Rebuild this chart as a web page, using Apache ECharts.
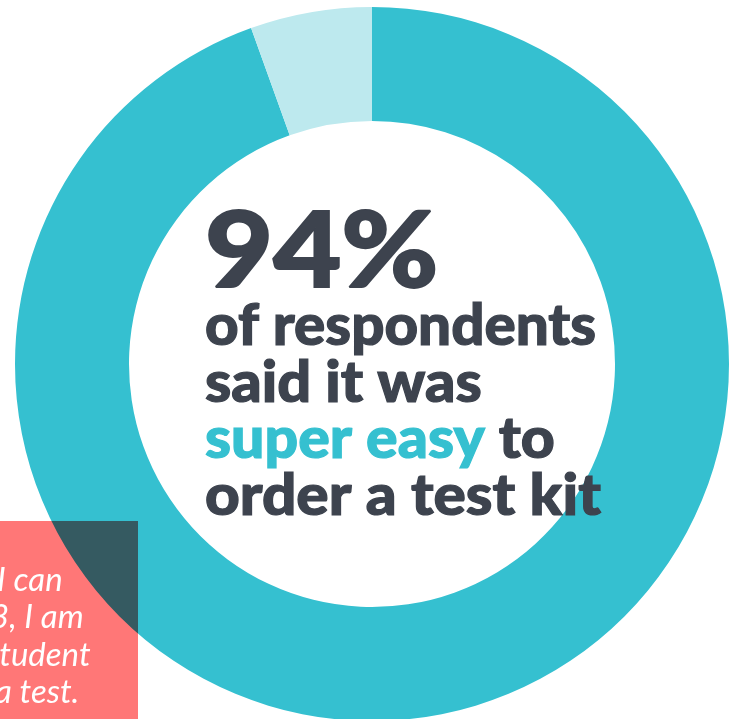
<!DOCTYPE html>
<html><head><meta charset="utf-8">
<script src="https://cdn.jsdelivr.net/npm/echarts@6/dist/echarts.min.js"></script>
<style>html,body{margin:0;padding:0;background:#fff}#c{width:736px;height:719px}</style>
</head><body><div id="c"></div>
<script>
const categories = ['Super easy', 'Other'];
const values = [94.5, 5.5];
const colors = ['#35C0D0', '#BDE9EE'];
const headline = '94%';
const lines = ['of respondents', 'said it was', 'super easy', 'to', 'order a test kit'];
const quoteLines = ['I can', '3, I am', 'student', 'a test.'];

const chart = echarts.init(document.getElementById('c'));
const dark = '#3D434E';
const teal = '#35C0D0';
const boldFont = 'Lato';
const fs = 58;
function bodyText(y, sx, style) {
  return {type: 'text', z: 100, x: 205, y: y, scaleX: sx, style: Object.assign({x: 0, y: 0, verticalAlign: 'top', fontFamily: boldFont, fontWeight: 900, fontSize: fs, fill: dark, stroke: dark, lineWidth: 1.2, blend: 'multiply'}, style)};
}
chart.setOption({
  animation: false,
  series: [{
    type: 'pie',
    center: [372, 364],
    radius: [243, 357],
    startAngle: 90,
    clockwise: true,
    label: {show: false},
    labelLine: {show: false},
    silent: true,
    data: categories.map((c, i) => ({name: c, value: values[i], itemStyle: {color: colors[i]}}))
  }],
  graphic: [
    {type: 'text', z: 100, x: 205, y: 201, scaleX: 1.13, style: {x: 0, y: 0, verticalAlign: 'top', text: headline, fontFamily: boldFont, fontWeight: 900, fontSize: 104, fill: dark, stroke: dark, lineWidth: 2, blend: 'multiply'}},
    bodyText(297, 1.005, {text: lines[0]}),
    bodyText(354, 1.025, {text: lines[1]}),
    bodyText(410, 1.017, {
      text: '{a|' + lines[2] + '} {b|' + lines[3] + '}',
      stroke: null, lineWidth: 0,
      rich: {
        a: {fontFamily: boldFont, fontWeight: 900, fontSize: fs, fill: teal, color: teal, textStrokeColor: teal, stroke: teal, textStrokeWidth: 1.2, lineWidth: 1.2},
        b: {fontFamily: boldFont, fontWeight: 900, fontSize: fs, fill: dark, color: dark, textStrokeColor: dark, stroke: dark, textStrokeWidth: 1.2, lineWidth: 1.2}
      }}),
    bodyText(467, 1.04, {text: lines[4]}),
    {type: 'rect', z: 90, shape: {x: 0, y: 521, width: 138, height: 198}, style: {fill: '#FF7777', blend: 'multiply'}},
    {type: 'text', z: 110, x: -3, y: 597, style: {text: quoteLines[0], fontFamily: 'Lato', fontStyle: 'italic', fontSize: 33, fill: '#fff', verticalAlign: 'bottom'}},
    {type: 'text', z: 110, x: -10, y: 634, style: {text: quoteLines[1], fontFamily: 'Lato', fontStyle: 'italic', fontSize: 33, fill: '#fff', verticalAlign: 'bottom'}},
    {type: 'text', z: 110, x: -14, y: 672, style: {text: quoteLines[2], fontFamily: 'Lato', fontStyle: 'italic', fontSize: 33, fill: '#fff', verticalAlign: 'bottom'}},
    {type: 'text', z: 110, x: -5, y: 709, style: {text: quoteLines[3], fontFamily: 'Lato', fontStyle: 'italic', fontSize: 33, fill: '#fff', verticalAlign: 'bottom'}}
  ]
});
</script></body></html>
